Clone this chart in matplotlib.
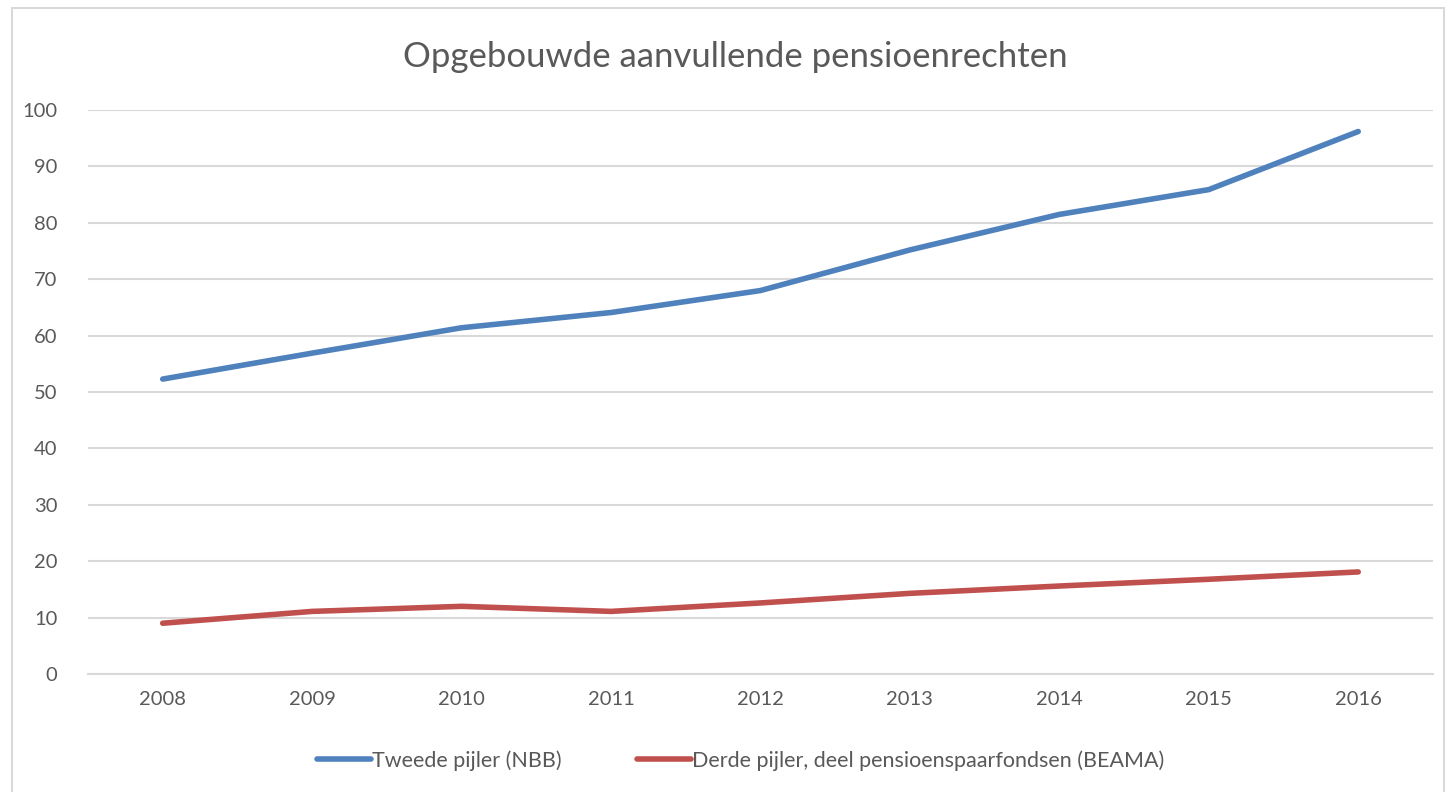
import matplotlib.pyplot as plt
from matplotlib.patches import Rectangle

jaren = ["2008", "2009", "2010", "2011", "2012", "2013", "2014", "2015", "2016"]
tweede_pijler = [52.3, 56.9, 61.4, 64.1, 68.0, 75.2, 81.5, 85.9, 96.2]
derde_pijler = [9.0, 11.1, 12.0, 11.1, 12.6, 14.3, 15.6, 16.8, 18.1]
y_ticks = [0, 10, 20, 30, 40, 50, 60, 70, 80, 90, 100]

plt.rcParams['font.family'] = ['Lato', 'DejaVu Sans']
grijs = '#595959'

fig = plt.figure(figsize=(14.47, 7.92), dpi=100)
ax = fig.add_axes([0.0608, 0.149, 0.9295, 0.712])

x = range(len(jaren))
ax.plot(x, tweede_pijler, color='#4F81BD', lw=4, solid_capstyle='round',
        label='Tweede pijler (NBB)', zorder=3)
ax.plot(x, derde_pijler, color='#C0504D', lw=4, solid_capstyle='round',
        label='Derde pijler, deel pensioenspaarfondsen (BEAMA)', zorder=3)

ax.set_xlim(-0.5, len(jaren) - 0.5)
ax.set_ylim(0, 100)
ax.set_xticks(list(x))
ax.set_xticklabels(jaren)
ax.set_yticks(y_ticks)
ax.tick_params(axis='both', length=0, labelsize=14.5, colors=grijs, pad=12)
ax.tick_params(axis='y', pad=22)
ax.grid(axis='y', color='#D9D9D9', lw=1.5)
ax.set_axisbelow(True)
for s in ['top', 'right', 'left']:
    ax.spines[s].set_visible(False)
ax.spines['bottom'].set_color('#D9D9D9')
ax.spines['bottom'].set_linewidth(1.5)

fig.text(0.508, 0.928, 'Opgebouwde aanvullende pensioenrechten', ha='center', va='center',
         fontsize=25, color=grijs)

fig.legend(loc='center', bbox_to_anchor=(0.512, 0.04), ncol=2, frameon=False,
           fontsize=15.5, labelcolor=grijs, handlelength=2.5, handletextpad=0.05,
           columnspacing=3.5)

# kader rond de grafiek
fig.add_artist(Rectangle((0.008, -0.01), 0.99, 1.0, transform=fig.transFigure,
                         fill=False, edgecolor='#D9D9D9', lw=1.5))

fig.savefig('out.png', dpi=100)
